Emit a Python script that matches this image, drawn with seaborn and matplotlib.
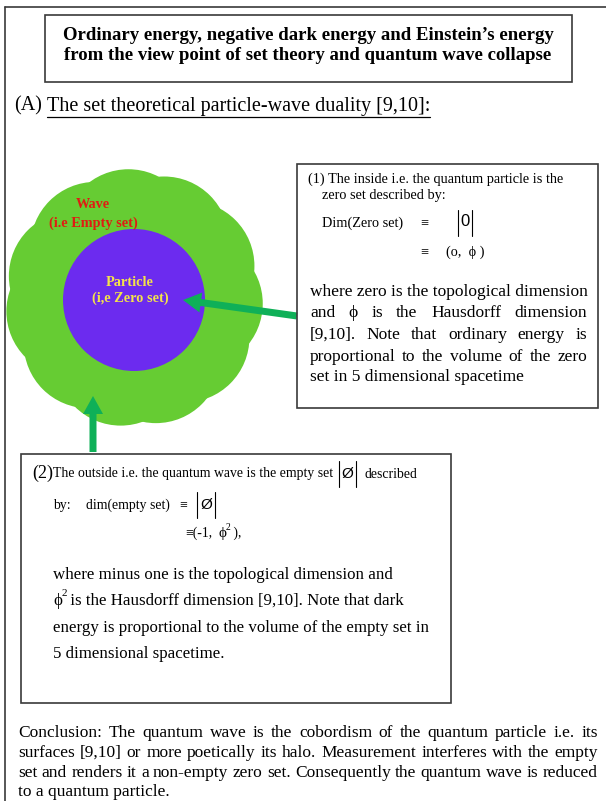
import matplotlib
matplotlib.use('Agg')
import matplotlib.pyplot as plt
import seaborn as sns
import numpy as np
from matplotlib.patches import Rectangle, Circle, FancyArrow

W, H = 606, 801

title_lines = ["Ordinary energy, negative dark energy and Einstein\u2019s energy",
               "from the view point of set theory and quantum wave collapse"]
heading_tag = "(A)"
heading = "The set theoretical particle-wave duality [9,10]:"
wave_label = ["Wave", "(i.e Empty set)"]
particle_label = ["Particle", "(i,e Zero set)"]

box1_intro = ["(1) The inside i.e. the quantum particle is the",
              "zero set described by:"]
box1_dim = "Dim(Zero set)"
box1_pair = "(o,  \u03d5 )"
box1_body = ["where zero is the topological dimension",
             "and \u03d5 is the Hausdorff dimension",
             "[9,10]. Note that ordinary energy is",
             "proportional to the volume of the zero",
             "set in 5 dimensional spacetime"]

box2_tag = "(2)"
box2_first = "The outside i.e. the quantum wave is the empty set"
box2_first_end = "described"
box2_dim = ["by:", "dim(empty set)"]
box2_pair = ["\u2261(-1,", " ),"]
box2_body = ["where minus one is the topological dimension and",
             " is the Hausdorff dimension [9,10]. Note that dark",
             "energy is proportional to the volume of the empty set in",
             "5 dimensional spacetime."]

conclusion = ["Conclusion: The quantum wave is the cobordism of the quantum particle i.e. its",
              "surfaces [9,10] or more poetically its halo. Measurement interferes with the empty",
              "set and renders it a non-empty zero set. Consequently the quantum wave is reduced",
              "to a quantum particle."]

# scalloped halo: bump angles (deg) around the particle
bump_angles = [5, 38, 70, 102, 135, 168, 200, 233, 265, 298, 330]

sns.set_theme(style="white")
plt.rcParams['font.family'] = ['Liberation Serif', 'DejaVu Serif']
plt.rcParams['text.color'] = 'black'

fig = plt.figure(figsize=(W / 100, H / 100), dpi=100)
ax = fig.add_axes([0, 0, 1, 1])
ax.set_xlim(0, W)
ax.set_ylim(H, 0)
ax.axis('off')
r = fig.canvas.get_renderer()

EDGE = '#3a3a3a'
SMALL1 = 10.3
SMALL2 = 9.9
BIG = 12.5
BIG2 = 12.2
SANS = ['Liberation Sans', 'DejaVu Sans']


def put(x, y, s, size, **kw):
    kw.setdefault('va', 'center')
    t = ax.text(x, y, s, fontsize=size, **kw)
    return x + t.get_window_extent(r).width


def justify(line, x0, x1, y, size):
    words = line.split()
    ts = [ax.text(0, y, w, fontsize=size, va='center') for w in words]
    ws = [t.get_window_extent(r).width for t in ts]
    gap = (x1 - x0 - sum(ws)) / (len(words) - 1)
    x = x0
    for t, w in zip(ts, ws):
        t.set_x(x)
        x += w + gap


def bars(x0, x1, y0, y1):
    ax.plot([x0, x0], [y0, y1], color='black', lw=0.8)
    ax.plot([x1, x1], [y0, y1], color='black', lw=0.8)


# outer frame
ax.plot([5, W], [7, 7], color=EDGE, lw=1.2)
ax.plot([5, 5], [7, H], color=EDGE, lw=1.2)

# title box
ax.add_patch(Rectangle((45, 15), 527, 67, fill=False, ec=EDGE, lw=1.2))
for y, s in zip([35, 55], title_lines):
    ax.text(308, y, s, fontsize=13.5, fontweight='bold', ha='center', va='center')

# heading
put(14, 106, heading_tag, 14.5)
end = put(47, 106, heading, 14.5)
ax.plot([47, end], [117, 117], color='black', lw=0.9)

# halo (wave) and particle
cx, cy = 134, 298
ax.add_patch(Circle((cx, cy), 112, color='#66cc33', lw=0))
for a in bump_angles:
    t = np.deg2rad(a)
    ax.add_patch(Circle((cx + 64 * np.cos(t), cy + 64 * np.sin(t)), 65,
                        color='#66cc33', lw=0))
ax.add_patch(Circle((134, 300), 71, color='#6c2bef', lw=0))
for y, s in zip([205, 223], wave_label):
    ax.text(93, y, s, fontsize=10.3, fontweight='bold', color='#e01b12',
            ha='center', va='center')
for y, s in zip([282, 298], particle_label):
    ax.text(130, y, s, fontsize=10.3, fontweight='bold', color='#f4e34a',
            ha='center', va='center')

# arrows
ARROW = '#0fb058'
ax.add_patch(FancyArrow(297, 316, -114, -16, width=7, head_width=20,
                        head_length=18, length_includes_head=True,
                        color=ARROW, lw=0))
ax.add_patch(FancyArrow(93, 452, 0, -56, width=7, head_width=20,
                        head_length=18, length_includes_head=True,
                        color=ARROW, lw=0))

# box 1
ax.add_patch(Rectangle((297, 164), 301, 244, fill=False, ec=EDGE, lw=1.2))
put(308, 179, box1_intro[0], SMALL1)
put(322, 195, box1_intro[1], SMALL1)
put(322, 223, box1_dim, SMALL1)
put(420, 223, "\u2261", SMALL1)
bars(458, 472, 210, 236)
ax.text(465, 222, "0", fontsize=12, family=SANS, ha='center', va='center')
put(420, 252, "\u2261", SMALL1)
put(446, 252, box1_pair, SMALL1)
for i, (y, s) in enumerate(zip([292, 313, 335, 357, 377], box1_body)):
    if i in (1, 2, 3):
        justify(s, 310, 587, y, BIG)
    else:
        put(310, y, s, BIG)

# box 2
ax.add_patch(Rectangle((21, 454), 430, 249, fill=False, ec=EDGE, lw=1.2))
x = put(32, 473, box2_tag, 13)
x = put(x, 474, box2_first, SMALL2)
bars(x + 6, x + 23, 461, 487)
ax.text(x + 14.5, 474, "\u00d8", fontsize=11, family=SANS, ha='center', va='center')
put(x + 31, 474, box2_first_end, SMALL2)
put(53, 505, box2_dim[0], SMALL2)
put(86, 505, box2_dim[1], SMALL2)
put(179, 505, "\u2261", SMALL2)
bars(197, 215, 492, 518)
ax.text(206, 505, "\u00d8", fontsize=11, family=SANS, ha='center', va='center')
x = put(185, 533, box2_pair[0], SMALL2)
x = put(x + 6, 533, "\u03d5", SMALL2 + 1)
put(x, 527, "2", 7)
put(x + 4, 533, box2_pair[1], SMALL2)
put(53, 575, box2_body[0], BIG2)
x = put(53, 601, "\u03d5", BIG2)
put(x, 594, "2", 8)
put(x + 4, 601, box2_body[1], BIG2)
put(53, 628, box2_body[2], BIG2)
put(53, 654, box2_body[3], BIG2)

# conclusion
for i, (y, s) in enumerate(zip([733, 753, 773, 792], conclusion)):
    if i < 3:
        justify(s, 18, 598, y, BIG)
    else:
        put(18, y, s, BIG)

fig.savefig('out.png', dpi=100)
